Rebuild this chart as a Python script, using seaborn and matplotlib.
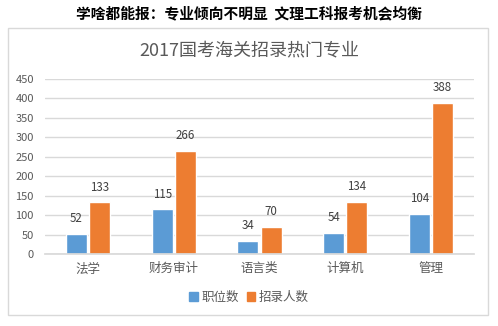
import matplotlib
matplotlib.use("Agg")
import matplotlib.pyplot as plt
import seaborn as sns
import pandas as pd
from matplotlib.patches import Rectangle

categories = ["法学", "财务审计", "语言类", "计算机", "管理"]
positions = [52, 115, 34, 54, 104]
recruits = [133, 266, 70, 134, 388]
series_names = ["职位数", "招录人数"]
yticks = [0, 50, 100, 150, 200, 250, 300, 350, 400, 450]

sns.set_theme(style="white")
plt.rcParams["font.family"] = ["Noto Sans CJK SC", "DejaVu Sans"]

df = pd.DataFrame({
    "cat": categories * 2,
    "series": [series_names[0]] * len(categories) + [series_names[1]] * len(categories),
    "value": positions + recruits,
})

fig = plt.figure(figsize=(4.98, 3.26), dpi=100)
fig.patch.set_facecolor("white")
fig.patches.append(Rectangle((8 / 498, 1 - 315 / 326), 480 / 498, 287 / 326,
                             transform=fig.transFigure, fill=False,
                             edgecolor="#d9d9d9", lw=1))

ax = fig.add_axes([45 / 498, 1 - 254 / 326, 429 / 498, 175 / 326])
sns.barplot(data=df, x="cat", y="value", hue="series", order=categories,
            hue_order=series_names, palette=["#5B9BD5", "#ED7D31"],
            width=0.54, gap=0.1, ax=ax, legend=False, saturation=1)

for cont in ax.containers:
    for bar in cont:
        h = bar.get_height()
        ax.annotate(f"{int(round(h))}", (bar.get_x() + bar.get_width() / 2, h),
                    xytext=(0, 11), textcoords="offset points",
                    ha="center", va="center", fontsize=8.3, color="#404040")

ax.set_ylim(0, 450)
ax.set_yticks(yticks)
ax.set_xlim(-0.5, len(categories) - 0.5)
ax.grid(axis="y", color="#d9d9d9", lw=1)
ax.set_axisbelow(True)
for s in ["top", "right", "left"]:
    ax.spines[s].set_visible(False)
ax.spines["bottom"].set_color("#d9d9d9")
ax.tick_params(axis="y", labelsize=8, labelcolor="#595959", length=0, pad=8)
ax.tick_params(axis="x", labelsize=9, labelcolor="#595959", length=0, pad=6)
ax.set_xlabel("")
ax.set_ylabel("")

fig.text(0.5, 1 - 13 / 326, "学啥都能报：专业倾向不明显  文理工科报考机会均衡",
         ha="center", va="center", fontsize=10.6, fontweight="bold", color="black")
fig.text(0.5, 1 - 50 / 326, "2017国考海关招录热门专业",
         ha="center", va="center", fontsize=13, color="#595959")

handles = [Rectangle((0, 0), 1, 1, color=c) for c in ["#5B9BD5", "#ED7D31"]]
fig.legend(handles, series_names, loc="center", bbox_to_anchor=(0.5, 1 - 297 / 326),
           ncol=2, frameon=False, fontsize=9, handlelength=0.7, handleheight=0.7,
           handletextpad=0.3, columnspacing=0.6, labelcolor="#595959")

fig.savefig("out.png", dpi=100)
